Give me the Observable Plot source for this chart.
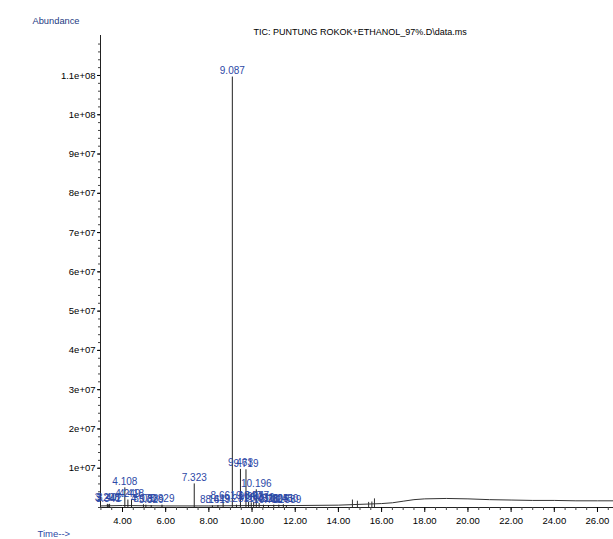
<!DOCTYPE html>
<html>
<head>
<meta charset="utf-8">
<script src="https://cdn.jsdelivr.net/npm/d3@7"></script>
<script src="https://cdn.jsdelivr.net/npm/@observablehq/plot@0.6"></script>
<style>
  html, body { margin: 0; padding: 0; background: #fff; }
  #chart { width: 613px; height: 539px; }
</style>
</head>
<body>
<div id="chart"></div>
<script>
// ---- data ----
const title = "TIC: PUNTUNG ROKOK+ETHANOL_97%.D\\data.ms";
const yLabel = "Abundance";
const xLabel = "Time-->";

// labelled peaks: retention time (min) and apex abundance
const peakTimes = [3.298, 3.341, 3.402, 4.108, 4.249, 4.418, 4.970, 5.083, 5.329, 5.829,
  7.323, 8.164, 8.419, 8.661, 9.087, 9.281, 9.463, 9.719, 9.840, 9.963, 10.077,
  10.196, 10.330, 10.528, 10.761, 11.005, 11.241, 11.450, 11.589];
const peakHeights = [0.8e6, 0.7e6, 0.8e6, 5.0e6, 1.9e6, 2.0e6, 0.7e6, 0.6e6, 0.5e6, 0.6e6,
  6.0e6, 0.4e6, 0.5e6, 1.3e6, 1.096e8, 0.6e6, 9.7e6, 9.6e6, 1.3e6, 1.2e6, 1.3e6,
  4.5e6, 1.0e6, 0.6e6, 0.5e6, 0.6e6, 0.6e6, 0.7e6, 0.5e6];

// small unlabelled spikes
const spikeTimes = [14.65, 14.88, 15.40, 15.55, 15.67];
const spikeHeights = [1.9e6, 1.6e6, 1.3e6, 1.4e6, 2.2e6];

// baseline trace
const baseTimes = [2.981, 4.0, 6.0, 8.0, 10.0, 12.0, 14.0, 15.0, 16.0, 16.5, 17.0, 17.5,
  18.0, 19.0, 20.0, 21.0, 22.0, 23.0, 24.0, 25.0, 26.0, 26.742];
const baseValues = [0.4e6, 0.5e6, 0.4e6, 0.4e6, 0.5e6, 0.5e6, 0.6e6, 0.8e6, 1.0e6, 1.2e6,
  1.6e6, 2.0e6, 2.2e6, 2.3e6, 2.2e6, 2.0e6, 1.9e6, 1.8e6, 1.8e6, 1.7e6, 1.7e6, 1.7e6];

// axis ticks
const xTicks = [4, 6, 8, 10, 12, 14, 16, 18, 20, 22, 24, 26];
const xMinorTicks = d3.range(3, 27, 0.5);
const yTicks = [1e7, 2e7, 3e7, 4e7, 5e7, 6e7, 7e7, 8e7, 9e7, 1e8, 1.1e8];
const yMinorTicks = d3.range(0, 1.2e8, 2e6);

const xDomain = [2.981, 26.742];
const yDomain = [0, 1.2018e8];

// ---- build tables ----
const peaks = peakTimes.map((t, i) => ({t, h: peakHeights[i]}));
const spikes = spikeTimes.map((t, i) => ({t, h: spikeHeights[i]}));
const base = baseTimes.map((t, i) => ({t, v: baseValues[i]}));

const fmtExp = v => {
  const e = Math.floor(Math.log10(v) + 1e-9);
  const m = +(v / Math.pow(10, e)).toFixed(2);
  return `${m}e+${String(e).padStart(2, "0")}`;
};

const sans = "'Liberation Sans', Arial, sans-serif";
const blue = "#2c48a6";

const chart = Plot.plot({
  width: 613,
  height: 539,
  marginLeft: 100,
  marginRight: 0,
  marginTop: 35,
  marginBottom: 32,
  x: {domain: xDomain},
  y: {domain: yDomain},
  style: {fontFamily: sans, fontSize: "9.5px", background: "#fff", color: "#000"},
  marks: [
    Plot.ruleX([xDomain[0]], {stroke: "#222", strokeWidth: 1}),
    Plot.ruleY([0], {stroke: "#222", strokeWidth: 1}),
    Plot.axisY({ticks: yMinorTicks, tickSize: 2, tickFormat: () => "", label: null, stroke: "#444"}),
    Plot.axisY({ticks: yTicks, tickSize: 3, tickPadding: 2, tickFormat: fmtExp, label: null, fontSize: 9.5, fill: "#000"}),
    Plot.axisX({ticks: xMinorTicks, tickSize: 3, tickFormat: () => "", label: null, stroke: "#444"}),
    Plot.axisX({ticks: xTicks, tickSize: 5, tickPadding: 5, tickFormat: d => d.toFixed(2), label: null, fontSize: 9.5, fill: "#000"}),
    Plot.line(base, {x: "t", y: "v", stroke: "#333", strokeWidth: 1}),
    Plot.ruleX(spikes, {x: "t", y1: 0, y2: "h", stroke: "#333", strokeWidth: 1}),
    Plot.ruleX(peaks, {x: "t", y1: 0, y2: "h", stroke: "#222", strokeWidth: 1}),
    Plot.text(peaks, {x: "t", y: "h", text: d => d.t.toFixed(3), lineAnchor: "bottom", dy: -3,
      fill: blue, fontFamily: sans, fontSize: 10}),
    Plot.text([title], {text: d => d, frameAnchor: "top-left", dx: 153, dy: -3, textAnchor: "start",
      lineAnchor: "middle", fill: "#000", fontSize: 9}),
    Plot.text([yLabel], {text: d => d, frameAnchor: "top-left", dx: -68, dy: -14, textAnchor: "start",
      lineAnchor: "middle", fill: "#1d3a82", fontSize: 9.3}),
    Plot.text([xLabel], {text: d => d, frameAnchor: "bottom-left", dx: -63, dy: 26, textAnchor: "start",
      lineAnchor: "middle", fill: blue, fontSize: 9.5})
  ]
});
document.getElementById("chart").appendChild(chart);
</script>
</body>
</html>
